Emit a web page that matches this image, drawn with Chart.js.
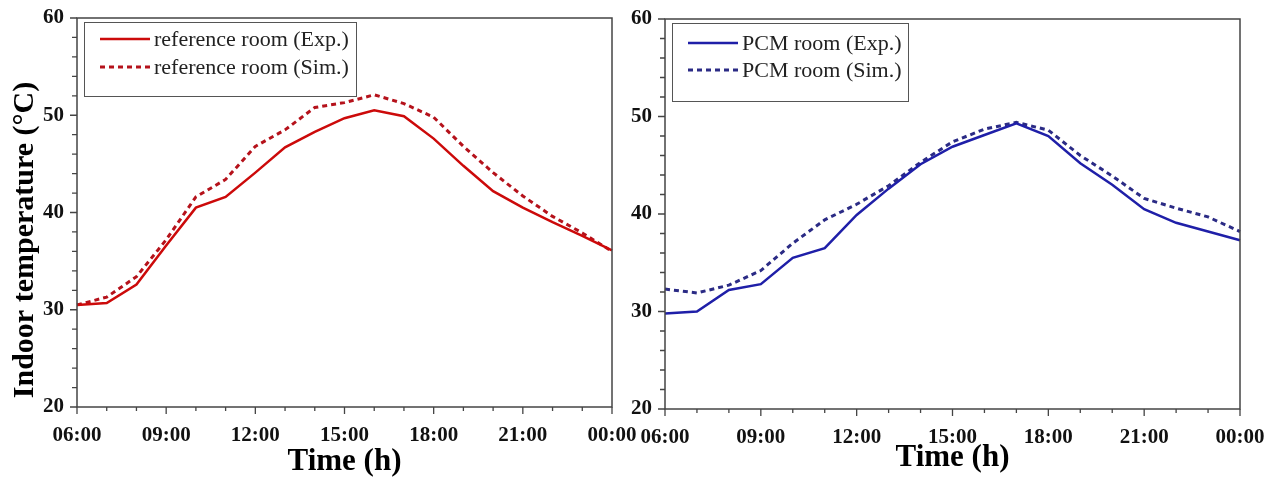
<!DOCTYPE html>
<html lang="en">
<head>
<meta charset="UTF-8">
<title>Indoor temperature</title>
<script src="https://cdn.jsdelivr.net/npm/chart.js"></script>
<style>
  body { margin: 0; background: #fff; }
  .wrap { position: relative; width: 1269px; height: 479px; overflow: hidden; }
  canvas { position: absolute; top: 0; }
  #leftChart { left: 0; }
  #rightChart { left: 620px; }
</style>
</head>
<body>
<div class="wrap">
  <canvas id="leftChart" width="640" height="479"></canvas>
  <canvas id="rightChart" width="649" height="479"></canvas>
</div>
<script>
// hourly readings, 06:00 to midnight
const hours = ['06:00', '07:00', '08:00', '09:00', '10:00', '11:00', '12:00', '13:00', '14:00', '15:00',
               '16:00', '17:00', '18:00', '19:00', '20:00', '21:00', '22:00', '23:00', '00:00'];
const refExp = [30.5, 30.7, 32.6, 36.6, 40.5, 41.6, 44.1, 46.7, 48.3, 49.7, 50.5, 49.9, 47.6, 44.8, 42.2, 40.5, 39.0, 37.6, 36.1];
const refSim = [30.5, 31.3, 33.4, 37.2, 41.6, 43.4, 46.8, 48.5, 50.8, 51.3, 52.1, 51.2, 49.8, 46.8, 44.1, 41.7, 39.6, 37.9, 36.0];
const pcmExp = [29.8, 30.0, 32.2, 32.8, 35.5, 36.5, 39.9, 42.6, 45.1, 46.9, 48.1, 49.3, 48.0, 45.2, 43.0, 40.5, 39.1, 38.2, 37.3];
const pcmSim = [32.3, 31.9, 32.7, 34.2, 37.0, 39.4, 41.0, 42.9, 45.3, 47.4, 48.7, 49.4, 48.6, 46.0, 43.9, 41.6, 40.6, 39.7, 38.2];
const yMin = 20, yMax = 60, yStep = 10, yMinorStep = 2;

const serif = '"Liberation Serif", "Times New Roman", serif';

// box around the plot + outward major/minor ticks
const axisFrame = {
    id: 'axisFrame',
    afterDraw(chart) {
        const { ctx, chartArea: a, scales: { x, y } } = chart;
        ctx.save();
        ctx.strokeStyle = '#444';
        ctx.lineWidth = 1.5;
        ctx.strokeRect(a.left, a.top, a.right - a.left, a.bottom - a.top);
        ctx.lineWidth = 1.3;
        ctx.beginPath();
        x.ticks.forEach((t, i) => {
            const px = x.getPixelForTick(i);
            ctx.moveTo(px, a.bottom);
            ctx.lineTo(px, a.bottom + (i % 3 === 0 ? 7 : 4));
        });
        for (let v = yMin; v <= yMax; v += yMinorStep) {
            const py = y.getPixelForValue(v);
            ctx.moveTo(a.left, py);
            ctx.lineTo(a.left - (v % yStep === 0 ? 7 : 5), py);
        }
        ctx.stroke();
        ctx.restore();
    }
};

// rotated y title, placed a bit below the plot centre like the original
const yTitle = {
    id: 'yTitle',
    afterDraw(chart, args, o) {
        if (!o.text) return;
        const { ctx } = chart;
        ctx.save();
        ctx.translate(o.x, o.y);
        ctx.rotate(-Math.PI / 2);
        ctx.font = 'bold 30px ' + serif;
        ctx.fillStyle = '#000';
        ctx.textAlign = 'center';
        ctx.textBaseline = 'middle';
        ctx.fillText(o.text, 0, 0);
        ctx.restore();
    }
};

// framed legend inside the plot, top-left
const legendBox = {
    id: 'legendBox',
    afterDraw(chart, args, o) {
        const { ctx, chartArea } = chart;
        const bx = chartArea.left + o.x, by = chartArea.top + o.y;
        ctx.save();
        ctx.fillStyle = '#fff';
        ctx.fillRect(bx, by, o.w, o.h);
        ctx.strokeStyle = '#555';
        ctx.lineWidth = 1;
        ctx.strokeRect(bx + 0.5, by + 0.5, o.w, o.h);
        ctx.font = '22px ' + serif;
        ctx.textBaseline = 'middle';
        chart.data.datasets.forEach((ds, i) => {
            const ly = by + o.rowTop + i * o.rowGap;
            ctx.strokeStyle = ds.borderColor;
            ctx.lineWidth = ds.borderWidth;
            ctx.setLineDash(ds.borderDash || []);
            ctx.beginPath();
            ctx.moveTo(bx + o.lineX, ly);
            ctx.lineTo(bx + o.lineX + o.lineLen, ly);
            ctx.stroke();
            ctx.setLineDash([]);
            ctx.fillStyle = '#222';
            ctx.fillText(ds.label, bx + o.lineX + o.lineLen + 4, ly + 1);
        });
        ctx.restore();
    }
};

function makeChart(id, cfg) {
    const ctx = document.getElementById(id).getContext('2d');
    return new Chart(ctx, {
        type: 'line',
        data: {
            labels: hours,
            datasets: [
                { label: cfg.names[0], data: cfg.exp, borderColor: cfg.colors[0], borderWidth: 2.5 },
                { label: cfg.names[1], data: cfg.sim, borderColor: cfg.colors[1], borderWidth: 3, borderDash: [5, 4] }
            ]
        },
        options: {
            responsive: false,
            animation: false,
            layout: { padding: cfg.padding },
            elements: { point: { radius: 0 }, line: { tension: 0 } },
            plugins: {
                legend: { display: false },
                tooltip: { enabled: false },
                legendBox: cfg.legend,
                yTitle: cfg.yTitle
            },
            scales: {
                x: {
                    type: 'category',
                    offset: false,
                    grid: { display: false },
                    border: { display: false },
                    ticks: {
                        autoSkip: false,
                        maxRotation: 0,
                        padding: 8,
                        color: '#111',
                        font: { family: serif, size: 21, weight: 'bold' },
                        callback: (v, i) => (i % 3 === 0 ? hours[i] : '')
                    },
                    title: {
                        display: true,
                        text: 'Time (h)',
                        color: '#000',
                        font: { family: serif, size: 31, weight: 'bold', lineHeight: 1 },
                        padding: { top: 0, bottom: cfg.xTitlePad }
                    },
                    afterFit: s => {
                        s.height = cfg.xHeight;
                        s.paddingLeft = 0;
                        s.paddingRight = 0;
                    }
                },
                y: {
                    min: yMin,
                    max: yMax,
                    grid: { display: false },
                    border: { display: false },
                    ticks: {
                        stepSize: yStep,
                        padding: 5,
                        color: '#111',
                        font: { family: serif, size: 21, weight: 'bold' }
                    },
                    afterFit: s => {
                        s.width = cfg.yWidth;
                        s.paddingTop = 0;
                        s.paddingBottom = 0;
                    }
                }
            }
        },
        plugins: [axisFrame, legendBox, yTitle]
    });
}

makeChart('leftChart', {
    names: ['reference room (Exp.)', 'reference room (Sim.)'],
    exp: refExp,
    sim: refSim,
    colors: ['#cc0a0a', '#b5121b'],
    padding: { left: 0, right: 28, top: 18, bottom: 0 },
    yWidth: 77,
    xHeight: 72,
    xTitlePad: 2,
    yTitle: { text: 'Indoor temperature (°C)', x: 25, y: 240 },
    legend: { x: 7, y: 4, w: 272, h: 74, rowTop: 17, rowGap: 28, lineX: 16, lineLen: 50 }
});

makeChart('rightChart', {
    names: ['PCM room (Exp.)', 'PCM room (Sim.)'],
    exp: pcmExp,
    sim: pcmSim,
    colors: ['#1f1fa8', '#2b2b85'],
    padding: { left: 0, right: 29, top: 19, bottom: 0 },
    yWidth: 45,
    xHeight: 70,
    xTitlePad: 6,
    yTitle: { text: '' },
    legend: { x: 7, y: 4, w: 236, h: 78, rowTop: 20, rowGap: 27, lineX: 16, lineLen: 50 }
});
</script>
</body>
</html>
